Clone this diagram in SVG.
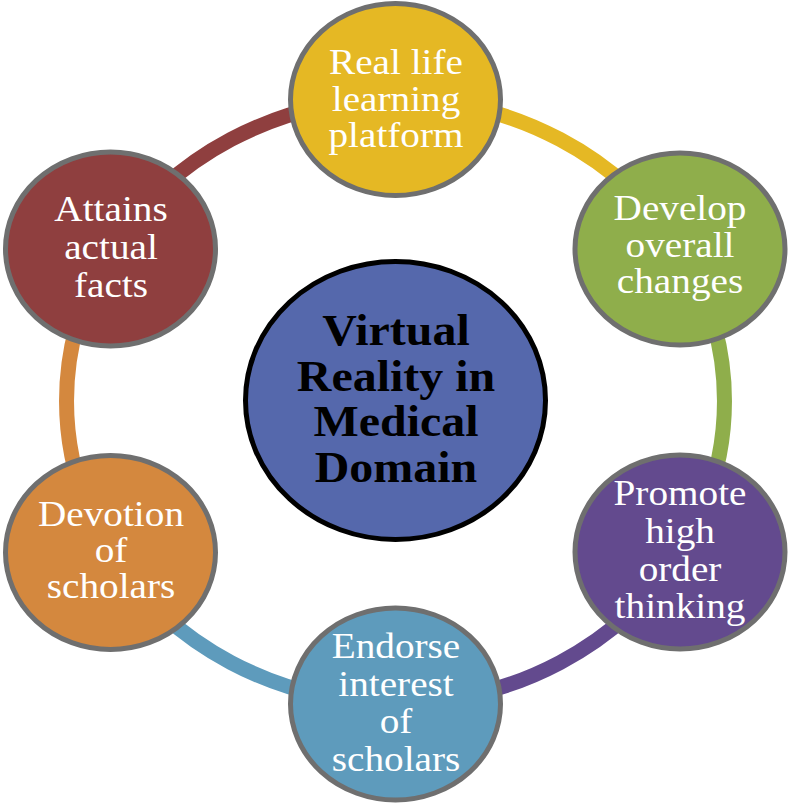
<svg xmlns="http://www.w3.org/2000/svg" width="791" height="807" viewBox="0 0 791 807">
<style>
.ring{fill:none;stroke-width:15}
.node{stroke:#6f6f6f;stroke-width:5}
.lbl{font-family:"Liberation Serif","Times New Roman",serif;font-size:36px;fill:#ffffff;text-anchor:middle}
.ctr{font-family:"Liberation Serif","Times New Roman",serif;font-size:44px;font-weight:bold;fill:#000000;text-anchor:middle}
</style>
<rect width="791" height="807" fill="#ffffff"/>
<g id="connectors">
<path class="ring" stroke="#E5B824" d="M395.5 99 A329 302 0 0 1 680.4 250"/>
<path class="ring" stroke="#8FAE4B" d="M680.4 250 A329 302 0 0 1 680.4 552"/>
<path class="ring" stroke="#634A8E" d="M680.4 552 A329 302 0 0 1 395.5 703"/>
<path class="ring" stroke="#5E9BBC" d="M395.5 703 A329 302 0 0 1 110.6 552"/>
<path class="ring" stroke="#D4883E" d="M110.6 552 A329 302 0 0 1 110.6 250"/>
<path class="ring" stroke="#8F3F3F" d="M110.6 250 A329 302 0 0 1 395.5 99"/>
</g>
<g id="center">
<ellipse cx="395.5" cy="400.5" rx="150" ry="139" fill="#5568AC" stroke="#000000" stroke-width="5"/>
<text class="ctr" transform="translate(396 0) scale(1.09 1)"><tspan x="0" y="345">Virtual</tspan><tspan x="0" y="391">Reality in</tspan><tspan x="0" y="436">Medical</tspan><tspan x="0" y="482">Domain</tspan></text>
</g>
<g id="n-top">
<ellipse class="node" cx="395.5" cy="99.5" rx="105" ry="96" fill="#E5B824"/>
<text class="lbl" transform="translate(396 0) scale(1.09 1)"><tspan x="0" y="74">Real life</tspan><tspan x="0" y="111">learning</tspan><tspan x="0" y="147">platform</tspan></text>
</g>
<g id="n-upper-right">
<ellipse class="node" cx="680" cy="249" rx="105" ry="96" fill="#8FAE4B"/>
<text class="lbl" transform="translate(680 0) scale(1.09 1)"><tspan x="0" y="220">Develop</tspan><tspan x="0" y="257">overall</tspan><tspan x="0" y="293">changes</tspan></text>
</g>
<g id="n-lower-right">
<ellipse class="node" cx="680" cy="552" rx="105" ry="97" fill="#634A8E"/>
<text class="lbl" transform="translate(680 0) scale(1.09 1)"><tspan x="0" y="505">Promote</tspan><tspan x="0" y="543">high</tspan><tspan x="0" y="581">order</tspan><tspan x="0" y="618">thinking</tspan></text>
</g>
<g id="n-bottom">
<ellipse class="node" cx="395.5" cy="704" rx="105" ry="96" fill="#5E9BBC"/>
<text class="lbl" transform="translate(396 0) scale(1.09 1)"><tspan x="0" y="658">Endorse</tspan><tspan x="0" y="696">interest</tspan><tspan x="0" y="733">of</tspan><tspan x="0" y="771">scholars</tspan></text>
</g>
<g id="n-lower-left">
<ellipse class="node" cx="110.5" cy="552.5" rx="105" ry="97" fill="#D4883E"/>
<text class="lbl" transform="translate(111 0) scale(1.09 1)"><tspan x="0" y="526">Devotion</tspan><tspan x="0" y="562">of</tspan><tspan x="0" y="598">scholars</tspan></text>
</g>
<g id="n-upper-left">
<ellipse class="node" cx="110.5" cy="249" rx="105" ry="97" fill="#8F3F3F"/>
<text class="lbl" transform="translate(111 0) scale(1.09 1)"><tspan x="0" y="221">Attains</tspan><tspan x="0" y="259">actual</tspan><tspan x="0" y="297">facts</tspan></text>
</g>
</svg>
